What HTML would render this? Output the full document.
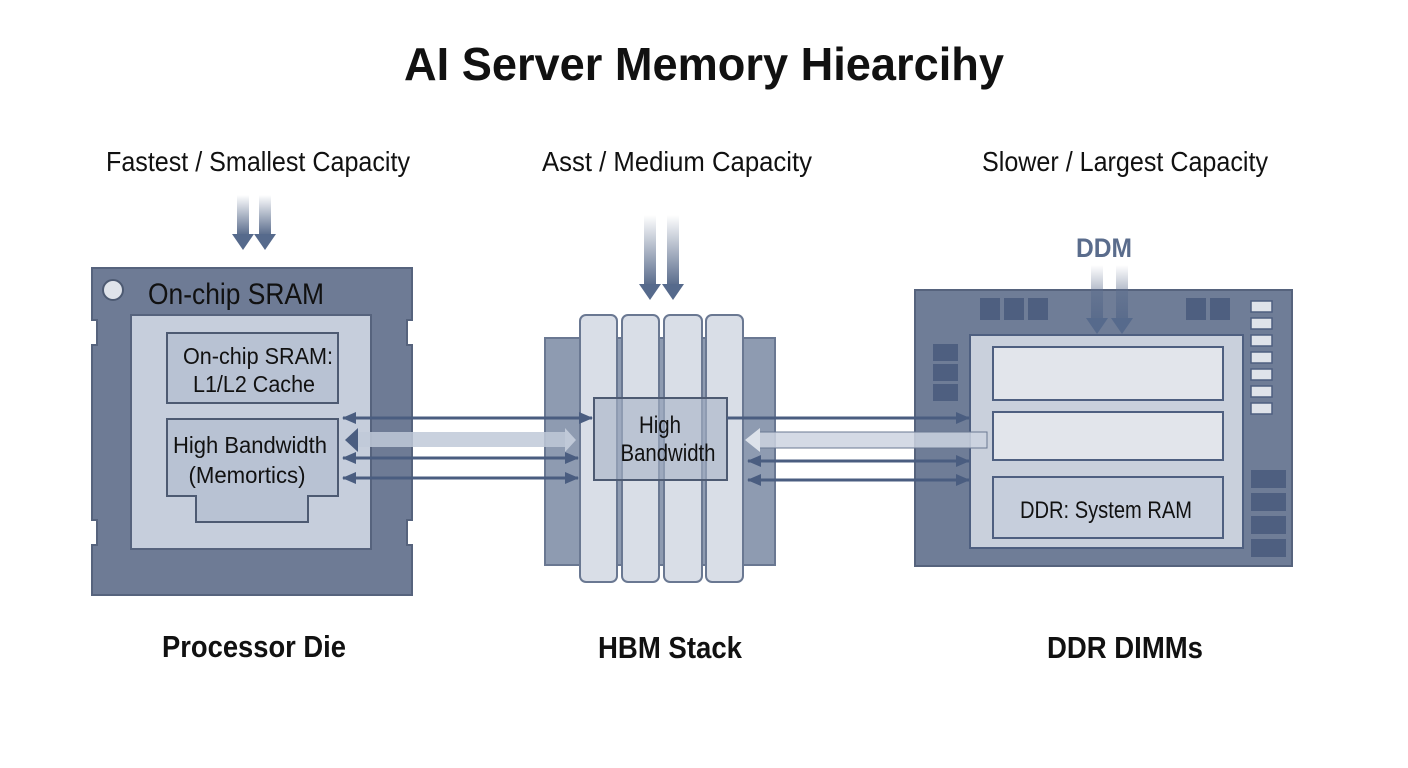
<!DOCTYPE html>
<html><head><meta charset="utf-8"><style>
html,body{margin:0;padding:0;background:#fff;}
svg{display:block;}
text{font-family:"Liberation Sans Narrow","Liberation Sans",sans-serif;fill:#111;}
</style></head><body>
<svg width="1408" height="768" viewBox="0 0 1408 768" xmlns="http://www.w3.org/2000/svg">
<defs>
<linearGradient id="ga" x1="0" y1="0" x2="0" y2="1">
<stop offset="0" stop-color="#5a6c8c" stop-opacity="0"/><stop offset="1" stop-color="#5a6c8c"/>
</linearGradient>
<marker id="ah" markerWidth="14" markerHeight="14" refX="13" refY="7" orient="auto-start-reverse" markerUnits="userSpaceOnUse"><path d="M0,1 L14,7 L0,13 z" fill="#4a5d80"/></marker>
</defs>

<text x="704" y="80" text-anchor="middle" font-size="46" font-weight="bold" textLength="600" lengthAdjust="spacingAndGlyphs">AI Server Memory Hiearcihy</text>
<text x="258" y="171" text-anchor="middle" font-size="28" textLength="304" lengthAdjust="spacingAndGlyphs">Fastest / Smallest Capacity</text>
<text x="677" y="171" text-anchor="middle" font-size="28" textLength="270" lengthAdjust="spacingAndGlyphs">Asst / Medium Capacity</text>
<text x="1125" y="171" text-anchor="middle" font-size="28" textLength="286" lengthAdjust="spacingAndGlyphs">Slower / Largest Capacity</text>

<!-- Processor die -->
<g>
<rect x="237" y="195" width="12" height="40" fill="url(#ga)"/><rect x="259" y="195" width="12" height="40" fill="url(#ga)"/>
<path d="M232,234 L254,234 L243,250 z M254,234 L276,234 L265,250 z" fill="#566a8c"/>
<path d="M92,268 H412 V320 H407 V345 H412 V520 H407 V545 H412 V595 H92 V545 H97 V520 H92 V345 H97 V320 H92 z" fill="#6e7b95" stroke="#56637d" stroke-width="2"/>
<circle cx="113" cy="290" r="10" fill="#dfe3ea" stroke="#4d5a72" stroke-width="2"/>
<text x="148" y="304" font-size="30" textLength="176" lengthAdjust="spacingAndGlyphs">On-chip SRAM</text>
<rect x="131" y="315" width="240" height="234" fill="#c6cedc" stroke="#56637d" stroke-width="2"/>
<rect x="167" y="333" width="171" height="70" fill="#b8c2d3" stroke="#4d5a72" stroke-width="2"/>
<text x="258" y="364" text-anchor="middle" font-size="23" textLength="150" lengthAdjust="spacingAndGlyphs">On-chip SRAM:</text>
<text x="254" y="392" text-anchor="middle" font-size="23" textLength="122" lengthAdjust="spacingAndGlyphs">L1/L2 Cache</text>
<path d="M167,419 H338 V496 H308 V522 H196 V496 H167 z" fill="#b8c2d3" stroke="#4d5a72" stroke-width="2"/>
<text x="250" y="453" text-anchor="middle" font-size="23" textLength="154" lengthAdjust="spacingAndGlyphs">High Bandwidth</text>
<text x="247" y="483" text-anchor="middle" font-size="23" textLength="117" lengthAdjust="spacingAndGlyphs">(Memortics)</text>
</g>
<text x="254" y="657" text-anchor="middle" font-size="31" font-weight="bold" textLength="184" lengthAdjust="spacingAndGlyphs">Processor Die</text>

<!-- HBM -->
<rect x="644" y="215" width="12" height="70" fill="url(#ga)"/><rect x="667" y="215" width="12" height="70" fill="url(#ga)"/>
<path d="M639,284 L661,284 L650,300 z M662,284 L684,284 L673,300 z" fill="#566a8c"/>
<rect x="545" y="338" width="230" height="227" fill="#8e9bb1" stroke="#6a7892" stroke-width="2"/>
<g fill="#d9dee7" stroke="#6a7892" stroke-width="2">
<rect x="580" y="315" width="37" height="267" rx="6"/>
<rect x="622" y="315" width="37" height="267" rx="6"/>
<rect x="664" y="315" width="38" height="267" rx="6"/>
<rect x="706" y="315" width="37" height="267" rx="6"/>
</g>
<rect x="594" y="398" width="133" height="82" fill="#a7b3c7" fill-opacity="0.6" stroke="#4d5a72" stroke-width="2"/>
<text x="660" y="433" text-anchor="middle" font-size="24" textLength="42" lengthAdjust="spacingAndGlyphs">High</text>
<text x="668" y="461" text-anchor="middle" font-size="24" textLength="95" lengthAdjust="spacingAndGlyphs">Bandwidth</text>
<text x="670" y="658" text-anchor="middle" font-size="31" font-weight="bold" textLength="144" lengthAdjust="spacingAndGlyphs">HBM Stack</text>

<!-- DDR -->
<text x="1104" y="257" text-anchor="middle" font-size="27" font-weight="bold" style="fill:#5a6c8c" textLength="56" lengthAdjust="spacingAndGlyphs">DDM</text>
<rect x="915" y="290" width="377" height="276" fill="#6f7d97" stroke="#56637d" stroke-width="2"/>
<g fill="#4e5f80">
<rect x="980" y="298" width="20" height="22"/><rect x="1004" y="298" width="20" height="22"/><rect x="1028" y="298" width="20" height="22"/>
<rect x="1186" y="298" width="20" height="22"/><rect x="1210" y="298" width="20" height="22"/>
<rect x="933" y="344" width="25" height="17"/><rect x="933" y="364" width="25" height="17"/><rect x="933" y="384" width="25" height="17"/>
<rect x="1251" y="470" width="35" height="18"/><rect x="1251" y="493" width="35" height="18"/><rect x="1251" y="516" width="35" height="18"/><rect x="1251" y="539" width="35" height="18"/>
</g>
<g fill="#dfe3ea" stroke="#4e5f80" stroke-width="1.5">
<rect x="1251" y="301" width="21" height="11"/><rect x="1251" y="318" width="21" height="11"/><rect x="1251" y="335" width="21" height="11"/><rect x="1251" y="352" width="21" height="11"/><rect x="1251" y="369" width="21" height="11"/><rect x="1251" y="386" width="21" height="11"/><rect x="1251" y="403" width="21" height="11"/>
</g>
<rect x="970" y="335" width="273" height="213" fill="#c9d0dc" stroke="#4e5f80" stroke-width="2"/>
<rect x="993" y="347" width="230" height="53" fill="#e2e5eb" stroke="#4e5f80" stroke-width="2"/>
<rect x="993" y="412" width="230" height="48" fill="#e2e5eb" stroke="#4e5f80" stroke-width="2"/>
<rect x="993" y="477" width="230" height="61" fill="#c6cedc" stroke="#4e5f80" stroke-width="2"/>
<text x="1106" y="518" text-anchor="middle" font-size="24" textLength="172" lengthAdjust="spacingAndGlyphs">DDR: System RAM</text>
<rect x="1091" y="265" width="12" height="55" fill="url(#ga)"/><rect x="1116" y="265" width="12" height="55" fill="url(#ga)"/>
<path d="M1086,318 L1108,318 L1097,334 z M1111,318 L1133,318 L1122,334 z" fill="#566a8c"/>
<text x="1125" y="658" text-anchor="middle" font-size="31" font-weight="bold" textLength="156" lengthAdjust="spacingAndGlyphs">DDR DIMMs</text>

<!-- Connectors -->
<g stroke="#4a5d80" stroke-width="3" fill="none">
<line x1="343" y1="418" x2="592" y2="418" marker-start="url(#ah)" marker-end="url(#ah)"/>
<line x1="343" y1="458" x2="578" y2="458" marker-start="url(#ah)" marker-end="url(#ah)"/>
<line x1="343" y1="478" x2="578" y2="478" marker-start="url(#ah)" marker-end="url(#ah)"/>
<line x1="727" y1="418" x2="969" y2="418" marker-end="url(#ah)"/>
<line x1="748" y1="461" x2="969" y2="461" marker-start="url(#ah)" marker-end="url(#ah)"/>
<line x1="748" y1="480" x2="969" y2="480" marker-start="url(#ah)" marker-end="url(#ah)"/>
</g>
<rect x="355" y="432" width="210" height="15" fill="#c0c9d8" fill-opacity="0.85"/>
<path d="M565,428 L576,440 L565,452 z" fill="#c0c9d8"/>
<path d="M345,440 L358,428 L358,452 z" fill="#4a5d80"/>
<rect x="758" y="432" width="229" height="16" fill="#cdd4e0" fill-opacity="0.85" stroke="#6a7892" stroke-width="1"/>
<path d="M745,440 L760,428 L760,452 z" fill="#dde2ea"/>
</svg>
</body></html>
